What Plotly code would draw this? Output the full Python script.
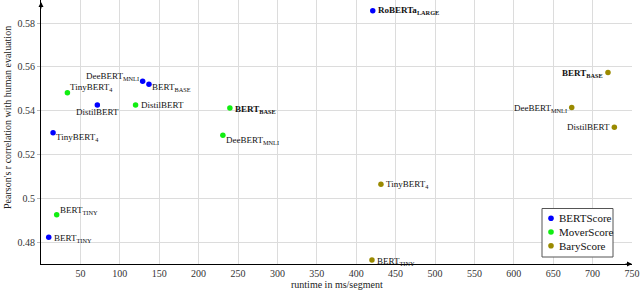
import plotly.graph_objects as go

# ---- data ----
series_names = ["BERTScore", "MoverScore", "BaryScore"]
series_colors = ["#0000ff", "#11ee11", "#9a8a00"]

# BERTScore
bs_labels = ["RoBERTa<sub>LARGE</sub>", "DeeBERT<sub>MNLI</sub>", "BERT<sub>BASE</sub>",
             "DistilBERT", "TinyBERT<sub>4</sub>", "BERT<sub>TINY</sub>"]
bs_x = [421, 129, 137, 71.5, 15.3, 9.8]
bs_y = [0.5856, 0.5535, 0.5521, 0.5426, 0.5300, 0.4823]
bs_bold = [True, False, False, False, False, False]

# MoverScore
ms_labels = ["TinyBERT<sub>4</sub>", "DistilBERT", "BERT<sub>BASE</sub>",
             "DeeBERT<sub>MNLI</sub>", "BERT<sub>TINY</sub>"]
ms_x = [33.5, 120, 239.7, 230.8, 19.9]
ms_y = [0.5482, 0.5426, 0.5412, 0.5288, 0.4926]
ms_bold = [False, False, True, False, False]

# BaryScore
ba_labels = ["BERT<sub>BASE</sub>", "DeeBERT<sub>MNLI</sub>", "DistilBERT",
             "TinyBERT<sub>4</sub>", "BERT<sub>TINY</sub>"]
ba_x = [719.5, 673.5, 727.6, 431.4, 420]
ba_y = [0.5574, 0.5415, 0.5325, 0.5065, 0.4719]
ba_bold = [True, False, False, False, False]

x_ticks = [50, 100, 150, 200, 250, 300, 350, 400, 450, 500, 550, 600, 650, 700, 750]
y_ticks = [0.48, 0.50, 0.52, 0.54, 0.56, 0.58]
y_ticktext = ["0.48", "0.5", "0.52", "0.54", "0.56", "0.58"]

# ---- label placement (style only: anchor side, pixel offsets) ----
bs_place = [("left", 3, 0), ("right", -2, 5), ("left", 1, -3.5), ("center", 0, -7), ("left", 1, -5), ("left", 3, -1)]
ms_place = [("left", 1, 5), ("left", 3, 0), ("left", 3, -1), ("left", 1, -5), ("left", 1, 4)]
ba_place = [("right", -3, -1), ("right", -3, -1), ("right", -2, 0), ("left", 3, 0), ("left", 3, -1)]

FONT = "Liberation Serif"
PL, PR, PT, PB, W, H = 41, 8, 0, 26, 640, 290
PW, PH = W - PL - PR, H - PT - PB

def px(xp):
    return (xp - PL) / PW

def py(yp):
    return (H - PB - yp) / PH

fig = go.Figure()
series = [
    (bs_x, bs_y, bs_labels, bs_bold, bs_place),
    (ms_x, ms_y, ms_labels, ms_bold, ms_place),
    (ba_x, ba_y, ba_labels, ba_bold, ba_place),
]
for (xs, ys, labs, bold, place), name, col in zip(series, series_names, series_colors):
    fig.add_trace(go.Scatter(
        x=xs, y=ys, mode="markers", name=name,
        marker=dict(color=col, size=5.5),
        cliponaxis=False, hoverinfo="skip",
    ))
    for x, y, lab, b, (anc, dx, dy) in zip(xs, ys, labs, bold, place):
        fig.add_annotation(
            x=x, y=y, xref="x", yref="y", showarrow=False,
            text=f"<b>{lab}</b>" if b else lab,
            xanchor=anc, yanchor="middle", xshift=dx, yshift=dy,
            font=dict(family=FONT, size=9, color="#111"),
        )

# ---- compact legend box (drawn as shapes + text) ----
fig.add_shape(type="rect", xref="paper", yref="paper",
              x0=px(542), x1=px(613), y0=py(257), y1=py(208.5),
              fillcolor="white", line=dict(color="#555", width=1), layer="above")
for i, (name, col) in enumerate(zip(series_names, series_colors)):
    yc = py(218.3 + 13.7 * i)
    fig.add_shape(type="circle", xref="paper", yref="paper",
                  xsizemode="pixel", ysizemode="pixel",
                  xanchor=px(551), yanchor=yc, x0=-2.8, x1=2.8, y0=-2.8, y1=2.8,
                  fillcolor=col, line=dict(width=0), layer="above")
    fig.add_annotation(text=name, xref="paper", yref="paper", x=px(556.5), y=yc,
                       xanchor="left", yanchor="middle", showarrow=False,
                       font=dict(family=FONT, size=11, color="#111"))

fig.update_layout(
    width=W, height=H,
    margin=dict(l=PL, r=PR, t=PT, b=PB, autoexpand=False),
    paper_bgcolor="white", plot_bgcolor="white",
    font=dict(family=FONT, size=10, color="#333"),
    showlegend=False,
)
fig.update_xaxes(
    range=[0, 750], tickvals=x_ticks, showgrid=True, gridcolor="#dcdcdc", gridwidth=1,
    showline=True, linecolor="black", linewidth=1, zeroline=False, automargin=False,
    ticks="", tickfont=dict(family=FONT, size=10, color="#333"),
)
fig.update_yaxes(
    range=[0.4701, 0.5905], tickvals=y_ticks, ticktext=y_ticktext,
    showgrid=True, gridcolor="#dcdcdc", gridwidth=1,
    showline=True, linecolor="black", linewidth=1, zeroline=False, automargin=False,
    ticks="outside", ticklen=3, tickcolor="#bbb",
    tickfont=dict(family=FONT, size=10, color="#333"),
)
fig.add_annotation(text="runtime in ms/segment", xref="paper", yref="paper",
                   x=0.5, y=-20 / PH, yanchor="middle", showarrow=False,
                   font=dict(family=FONT, size=10, color="#222"))
fig.add_annotation(text="Pearson's r correlation with human evaluation", xref="paper", yref="paper",
                   x=-34 / PW, y=0.553, xanchor="center", yanchor="middle", textangle=-90,
                   showarrow=False, font=dict(family=FONT, size=10, color="#222"))
# axis arrows
fig.add_annotation(x=0, y=1 - 2 / PH, xref="paper", yref="paper", ax=0, ay=8, text="",
                   showarrow=True, arrowhead=2, arrowsize=1, arrowwidth=1, arrowcolor="black")
fig.add_annotation(x=1.0, y=0, xref="paper", yref="paper", ax=-8, ay=0, text="",
                   showarrow=True, arrowhead=2, arrowsize=1, arrowwidth=1, arrowcolor="black")

fig.write_html(
    "out.html",
    config={"displayModeBar": False},
    post_script="document.body.style.margin='0';document.body.style.overflow='hidden';",
)
